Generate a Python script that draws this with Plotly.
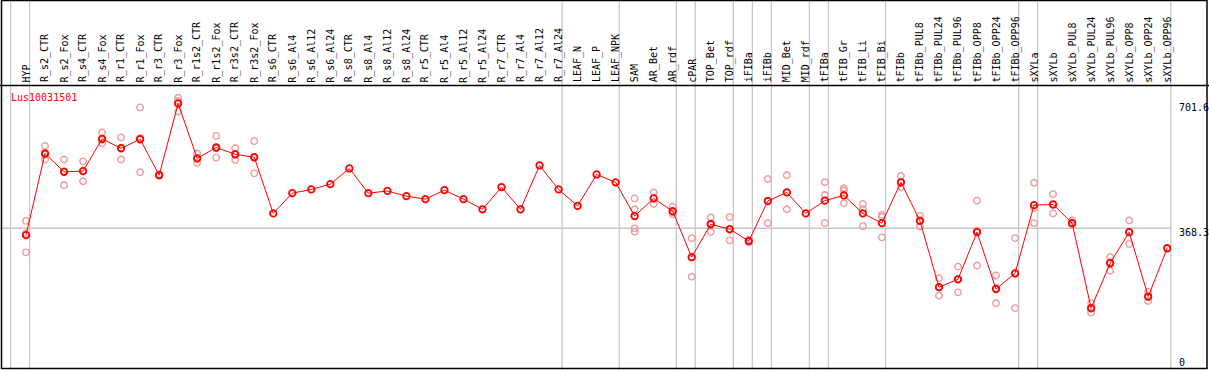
import plotly.graph_objects as go

# ---------------- data ----------------
categories = [
    "HYP", "R_s2_CTR", "R_s2_Fox", "R_s4_CTR", "R_s4_Fox", "R_r1_CTR", "R_r1_Fox",
    "R_r3_CTR", "R_r3_Fox", "R_r1s2_CTR", "R_r1s2_Fox", "R_r3s2_CTR", "R_r3s2_Fox",
    "R_s6_CTR", "R_s6_Al4", "R_s6_Al12", "R_s6_Al24", "R_s8_CTR", "R_s8_Al4",
    "R_s8_Al12", "R_s8_Al24", "R_r5_CTR", "R_r5_Al4", "R_r5_Al12", "R_r5_Al24",
    "R_r7_CTR", "R_r7_Al4", "R_r7_Al12", "R_r7_Al24", "LEAF_N", "LEAF_P", "LEAF_NPK",
    "SAM", "AR_Bet", "AR_rdf", "cPAR", "TOP_Bet", "TOP_rdf", "iFIBa", "iFIBb",
    "MID_Bet", "MID_rdf", "tFIBa", "tFIB_Gr", "tFIB_Li", "tFIB_Bi", "tFIBb",
    "tFIBb_PUL8", "tFIBb_PUL24", "tFIBb_PUL96", "tFIBb_OPP8", "tFIBb_OPP24",
    "tFIBb_OPP96", "sXYLa", "sXYLb", "sXYLb_PUL8", "sXYLb_PUL24", "sXYLb_PUL96",
    "sXYLb_OPP8", "sXYLb_OPP24", "sXYLb_OPP96",
]

means = [
    350, 568, 519, 521, 607, 582, 606, 510, 701.6, 555, 584, 566, 558,
    408, 462, 472, 486, 528, 462, 468, 454, 446, 470, 446, 419,
    478, 419, 536, 472, 428, 512, 491,
    401, 448, 414, 291, 379, 366, 334, 441,
    464, 408, 442, 456, 408, 382, 491,
    388, 211, 232, 358, 206, 248,
    430, 432, 382, 155, 275, 358, 186, 315,
]

replicates = [
    [388, 355, 304], [588, 552, 565], [552, 483, 521], [547, 494, 522],
    [624, 595, 604], [611, 552, 583], [691, 518, 609], [512, 509],
    [717, 680, 708], [568, 543, 554], [615, 557, 582], [582, 551, 565],
    [601, 515, 557],
    [], [], [], [], [], [], [], [], [], [], [], [], [], [], [], [], [], [], [],
    [448, 419, 368, 359], [464, 433, 448], [426, 406, 411], [342, 239, 291],
    [397, 359, 381], [398, 336, 364], [338, 332, 332], [500, 382, 441],
    [510, 419, 463], [], [491, 457, 382], [475, 469, 435], [433, 419, 374],
    [404, 399, 344], [508, 478, 490],
    [401, 373, 390], [235, 188, 210], [266, 197, 233], [442, 269, 362],
    [242, 168, 208], [342, 155, 247],
    [490, 422, 382], [459, 408, 430], [389, 377, 380], [168, 143, 153],
    [291, 255, 278], [389, 326, 358], [199, 174, 185], [],
]

# first category index of each sample group (group separators)
group_starts = [0, 1, 29, 32, 35, 36, 38, 39, 40, 42, 43, 46, 53, 54]

y_tick_values = [701.6, 368.3, 0]
y_tick_labels = ["701.6", "368.3", "0"]
gene_id = "Lus10031501"

# ---------------- layout geometry ----------------
W, H = 1209, 370
X0PX, DX = 26.0, 19.02      # pixel of first category, pixel step
Y0PX, KY = 366.2, 0.3745    # pixel of value 0, pixels per unit
HEADER_PX = 85.5
RIGHT_PX = 1170.0
FONT = "DejaVu Sans Mono"
GRID = "#c8c8c8"

n = len(categories)
xs = list(range(n))

rep_x, rep_y = [], []
for i, vals in enumerate(replicates):
    for v in vals:
        rep_x.append(i)
        rep_y.append(v)

fig = go.Figure()

fig.add_trace(go.Scatter(
    x=rep_x, y=rep_y, mode="markers",
    marker=dict(symbol="circle-open", size=6.5, color="#f09a9a",
                line=dict(width=1.4, color="#f09a9a")),
    hoverinfo="skip", showlegend=False,
))
fig.add_trace(go.Scatter(
    x=xs, y=means, mode="lines+markers",
    line=dict(color="#ff0000", width=1),
    marker=dict(symbol="circle-open", size=6.5, color="#ff0000",
                line=dict(width=1.8, color="#ff0000")),
    text=categories, hoverinfo="text+y", showlegend=False,
))

shapes = []
# group separators (full height)
sep_positions = [s - 0.81 for s in group_starts] + [n - 1 + 0.19]
for sx in sep_positions:
    shapes.append(dict(type="line", xref="x", yref="paper", x0=sx, x1=sx,
                       y0=0, y1=1, line=dict(color=GRID, width=1.3), layer="below"))
# horizontal reference line at 368.3
shapes.append(dict(type="line", xref="paper", yref="y", x0=0, x1=RIGHT_PX / W,
                   y0=y_tick_values[1], y1=y_tick_values[1],
                   line=dict(color=GRID, width=1.3), layer="below"))
# header separator line
shapes.append(dict(type="line", xref="paper", yref="paper", x0=0, x1=1,
                   y0=1 - HEADER_PX / H, y1=1 - HEADER_PX / H,
                   line=dict(color="black", width=1.3)))
# outer frame
shapes.append(dict(type="rect", xref="paper", yref="paper",
                   x0=1.5 / W, x1=1207 / W, y0=1 - 368.5 / H, y1=1 - 0.5 / H,
                   line=dict(color="black", width=1.5)))

annotations = []
for i, c in enumerate(categories):
    annotations.append(dict(
        x=i, y=1 - 83.5 / H, xref="x", yref="paper", text=c, showarrow=False,
        textangle=-90, xanchor="center", yanchor="bottom", borderpad=0,
        font=dict(family=FONT, size=10, color="black"),
    ))
annotations.append(dict(
    x=9.5 / W, y=1 - 97 / H, xref="paper", yref="paper", text=gene_id,
    showarrow=False, xanchor="left", yanchor="middle", borderpad=0,
    font=dict(family=FONT, size=10, color="#ff0000"),
))
for v, t in zip(y_tick_values, y_tick_labels):
    annotations.append(dict(
        x=1177.5 / W, y=v, xref="paper", yref="y", text=t, showarrow=False,
        xanchor="left", yanchor="middle", borderpad=0,
        yshift=(-4 if v > 0 else 3.5),
        font=dict(family=FONT, size=10, color="black"),
    ))

fig.update_layout(
    width=W, height=H,
    margin=dict(l=0, r=0, t=0, b=0, pad=0),
    paper_bgcolor="white", plot_bgcolor="white",
    xaxis=dict(range=[(0 - X0PX) / DX, (W - X0PX) / DX], visible=False,
               showgrid=False, zeroline=False, fixedrange=True),
    yaxis=dict(range=[(Y0PX - H) / KY, Y0PX / KY], visible=False,
               showgrid=False, zeroline=False, fixedrange=True),
    shapes=shapes,
    annotations=annotations,
    showlegend=False,
)

fig.write_html(
    "out.html",
    config={"displayModeBar": False},
    post_script="document.body.style.margin='0';document.body.style.overflow='hidden';",
)
